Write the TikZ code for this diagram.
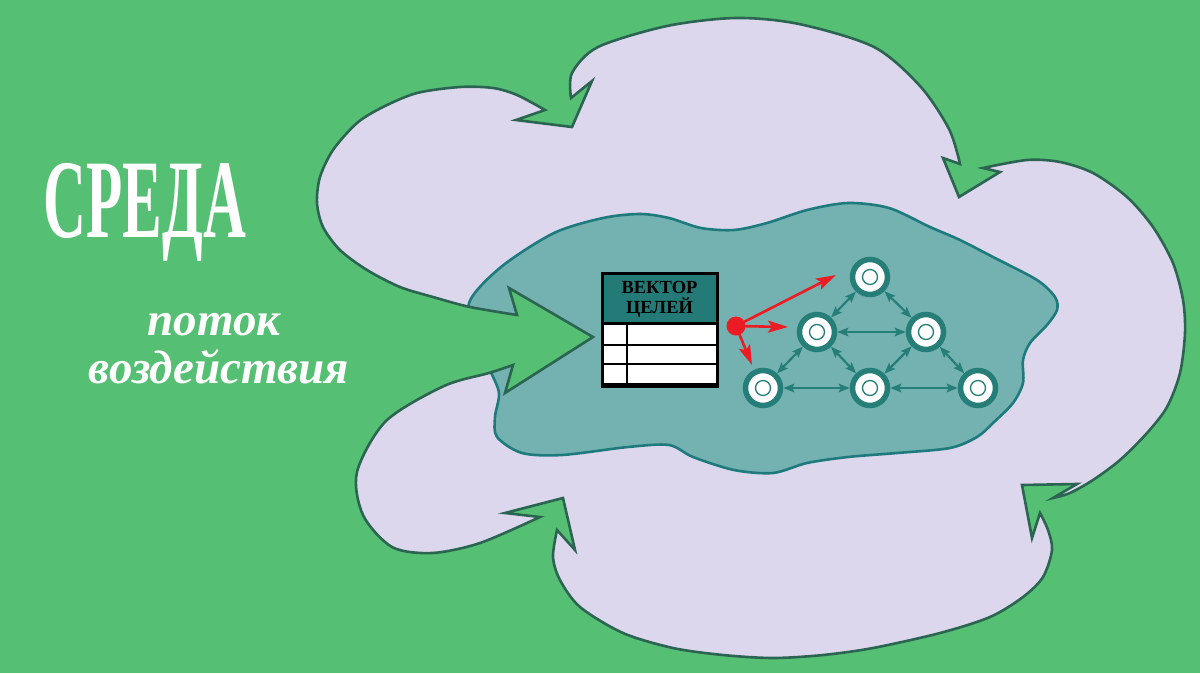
\documentclass[tikz,border=0pt]{standalone}
\usepackage{fontspec}
\usepackage{graphicx}
\setmainfont{Liberation Serif}
\usetikzlibrary{arrows.meta}

\definecolor{bggreen}{RGB}{85,192,115}
\definecolor{lavender}{RGB}{220,215,237}
\definecolor{cloudline}{RGB}{44,100,82}
\definecolor{coreteal}{RGB}{116,177,177}
\definecolor{coreline}{RGB}{30,122,124}
\definecolor{ringteal}{RGB}{38,126,120}
\definecolor{headteal}{RGB}{36,122,118}
\definecolor{signalred}{RGB}{236,28,36}

% outline of the environment: four lobes, inward arrow notches, and the big input arrow
\def\envoutline{%
  plot[smooth] coordinates {(517,315) (470,307) (433,297) (400,287) (367,270) (340,250) (323,227) (317,203) (320,177) (333,150) (357,123) (383,107) (417,93) (460,87) (493,88) (517,95) (545,110)}
  -- (516,120) -- (572,127) -- (592,81) -- (571,98)
  -- plot[smooth] coordinates {(571,98) (572,73) (598,47) (667,26) (736,18) (799,24) (874,47) (920,86) (949,129) (960,164)}
  -- (943,158) -- (959,197) -- (1000,172) -- (983,168)
  -- plot[smooth] coordinates {(983,168) (1027,160) (1060,162) (1093,173) (1127,197) (1153,227) (1173,263) (1183,300) (1185,333) (1180,373) (1167,407) (1147,433) (1120,460) (1093,480) (1070,493) (1053,498)}
  -- (1077,484) -- (1022,485) -- (1032,538) -- (1040,513)
  -- plot[smooth] coordinates {(1040,513) (1048,530) (1052,550) (1043,577) (1023,597) (990,617) (940,633) (873,648) (823,655) (773,658) (723,655) (673,648) (623,633) (580,607) (560,580) (553,557) (557,530)}
  -- (575,550) -- (563,498) -- (505,513) -- (540,517)
  -- plot[smooth] coordinates {(540,517) (480,543) (432,553) (392,547) (363,515) (357,472) (386,421) (444,386) (489,373) (513,365)}
  -- (505,393) -- (593,337) -- (509,288) -- cycle}

% outline of the system core
\def\coreoutline{%
  plot[smooth cycle] coordinates {(469,303) (501,267) (554,233) (603,218) (640,214) (669,218) (701,228) (734,230) (767,223) (807,210) (848,203) (889,208) (930,227) (960,240) (993,257) (1037,280) (1055,297) (1057,310) (1047,325) (1030,343) (1023,360) (1023,383) (1013,403) (993,423) (977,437) (950,448) (897,453) (848,457) (807,463) (773,473) (734,470) (693,457) (669,445) (628,447) (562,455) (522,453) (497,437) (495,417) (499,393) (490,370) (478,340)}}

\begin{document}
\begin{tikzpicture}[x=1pt,y=-1pt,
  netnode/.style={circle, draw=ringteal, line width=5.5pt, fill=white,
    minimum size=35pt, inner sep=0pt,
    path picture={\draw[ringteal, line width=1.3pt] (path picture bounding box.center) circle (7.5pt);}},
  link/.style={ringteal, line width=2.2pt,
    {Stealth[length=11pt,width=8.5pt,inset=2pt]}-{Stealth[length=11pt,width=8.5pt,inset=2pt]}},
  impulse/.style={signalred, line width=2.6pt, -{Stealth[length=20pt,width=12pt,inset=4pt]}},
  whitetext/.style={text=white, inner sep=0pt}
]
\useasboundingbox (0,0) rectangle (1200,673);
\fill[bggreen] (0,0) rectangle (1200,673);

% environment
\fill[lavender] \envoutline;
\begin{scope}
  \clip \envoutline;
  \fill[coreteal] \coreoutline;
  \draw[coreline, line width=2.6pt] \coreoutline;
\end{scope}
\draw[cloudline, line width=2.6pt, line join=miter] \envoutline;

% labels on the left
\node[whitetext, anchor=base, font=\fontsize{112pt}{112pt}\selectfont\bfseries] (env) at (145,237) {\scalebox{0.53}[1]{СРЕДА}};
\node[whitetext, anchor=base, font=\fontsize{47pt}{48pt}\selectfont\bfseries\itshape] (flow1) at (214,335) {поток};
\node[whitetext, anchor=base, font=\fontsize{47pt}{48pt}\selectfont\bfseries\itshape] (flow2) at (219,383) {воздействия};

% goal vector table
\fill[white] (602,273) rectangle (717,384);
\fill[headteal] (602,273) rectangle (717,323);
\draw[black, line width=2pt] (602,345) -- (717,345) (602,364) -- (717,364) (627,323) -- (627,384);
\draw[black, line width=3pt] (602,323) -- (717,323);
\node[draw=black, line width=3pt, minimum width=115pt, minimum height=111pt, inner sep=0pt] (goals) at (659.5,328.5) {};
\draw[black, line width=5pt] (goals.south west) -- (goals.south east);
\node[inner sep=0pt, align=center, font=\fontsize{18.5pt}{20pt}\selectfont\bfseries] (head) at (659.5,299) {ВЕКТОР\\ЦЕЛЕЙ};

% network of elements
\node[netnode] (top) at (870,277) {};
\node[netnode] (ml) at (817,332) {};
\node[netnode] (mr) at (926,332) {};
\node[netnode] (bl) at (763,388) {};
\node[netnode] (bm) at (870,388) {};
\node[netnode] (br) at (978,388) {};

\draw[link] (top) -- (ml);
\draw[link] (top) -- (mr);
\draw[link] (ml) -- (mr);
\draw[link] (ml) -- (bl);
\draw[link] (ml) -- (bm);
\draw[link] (mr) -- (bm);
\draw[link] (mr) -- (br);
\draw[link] (bl) -- (bm);
\draw[link] (bm) -- (br);

% control impulses
\coordinate (t1) at (836,275);
\coordinate (t2) at (788,327);
\coordinate (t3) at (752,365);
\node[circle, fill=signalred, minimum size=19pt, inner sep=0pt] (src) at (736,326) {};
\draw[impulse] (src.center) -- (t1);
\draw[impulse] (src.center) -- (t2);
\draw[impulse] (src.center) -- (t3);
\end{tikzpicture}
\end{document}
